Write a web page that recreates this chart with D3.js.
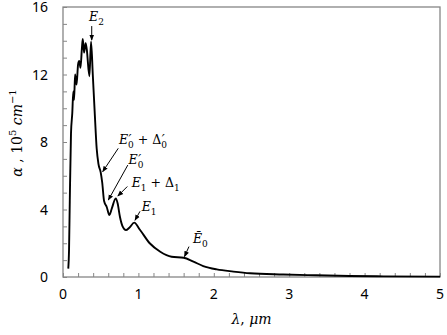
<!DOCTYPE html>
<html>
<head>
<meta charset="utf-8">
<script src="https://cdn.jsdelivr.net/npm/d3@7"></script>
<style>
  body { margin: 0; background: #fff; }
  .tick-label { font-family: "Noto Sans", "Open Sans", sans-serif; font-size: 14px; fill: #000; }
  .math { font-family: "DejaVu Serif", serif; }
</style>
</head>
<body>
<div id="chart"></div>
<script>
// absorption spectrum
const lambda = [0.07, 0.08, 0.09, 0.106, 0.123, 0.137, 0.147, 0.16, 0.18, 0.2, 0.215, 0.232, 0.25, 0.262, 0.28, 0.30, 0.315, 0.35, 0.372, 0.395, 0.42, 0.447, 0.47, 0.50, 0.52, 0.545, 0.58, 0.615, 0.65, 0.70, 0.725, 0.755, 0.79, 0.835, 0.88, 0.945, 1.02, 1.15, 1.29, 1.44, 1.6, 1.73, 1.86, 2.04, 2.26, 2.48, 2.92, 3.36, 3.8, 4.25, 5.0];
const alpha = [0.5, 1.6, 4.5, 8.5, 9.7, 11.0, 10.5, 12.0, 11.4, 12.6, 12.8, 12.4, 13.5, 14.1, 13.3, 13.85, 13.5, 11.9, 13.95, 12.0, 9.8, 7.6, 6.7, 6.2, 5.6, 4.5, 4.15, 3.67, 4.1, 4.66, 4.35, 3.57, 3.0, 2.78, 2.92, 3.22, 2.8, 2.0, 1.5, 1.2, 1.14, 0.91, 0.65, 0.45, 0.32, 0.22, 0.15, 0.1, 0.06, 0.04, 0.02];

const xTicks = [0, 1, 2, 3, 4, 5];
const yTicks = [0, 4, 8, 12, 16];

// transitions marked on the curve: [lambda, alpha] of arrow tip
const peakNames = ["E2", "E0'+D0'", "E0'", "E1+D1", "E1", "Ebar0"];
const peakLambda = [0.381, 0.526, 0.601, 0.727, 0.955, 1.611];
const peakAlpha = [14.04, 6.24, 4.56, 4.8, 3.36, 1.21];

// label pieces: t = main text (it = italic), sub/sup stacked after it
const peakLabels = {
  "E2": [{t: "E", it: true, sub: "2"}],
  "E0'+D0'": [{t: "E", it: true, sub: "0", sup: "′"}, {t: " + Δ", sub: "0", sup: "′"}],
  "E0'": [{t: "E", it: true, sub: "0", sup: "′"}],
  "E1+D1": [{t: "E", it: true, sub: "1"}, {t: " + Δ", sub: "1"}],
  "E1": [{t: "E", it: true, sub: "1"}],
  "Ebar0": [{t: "Ē", it: true, sub: "0"}]
};
// arrow tail and label offsets from the tip, px
const peakLayout = {
  "E2": {tail: [0, -14], label: [-2.7, -19]},
  "E0'+D0'": {tail: [15.6, -23.4], label: [16.3, -27.7]},
  "E0'": {tail: [19.5, -35], label: [20.2, -36]},
  "E1+D1": {tail: [9.5, -9.5], label: [13.9, -9]},
  "E1": {tail: [5, -9], label: [6.7, -9.7]},
  "Ebar0": {tail: [4.5, -10], label: [8.5, -13.5]}
};

const width = 447, height = 335;
const margin = {top: 7, right: 7, bottom: 58, left: 63};

const svg = d3.select("#chart").append("svg")
  .attr("width", width)
  .attr("height", height);

const x = d3.scaleLinear().domain([0, 5]).range([margin.left, width - margin.right]);
const y = d3.scaleLinear().domain([0, 16]).range([height - margin.bottom, margin.top]);

const frame = "#868686";

// minor ticks inside the frame
svg.append("g")
  .attr("transform", `translate(0,${y(0)})`)
  .call(d3.axisBottom(x).tickValues(d3.range(0, 5.01, 0.2)).tickSize(-4).tickFormat(""))
  .call(g => g.select(".domain").remove())
  .call(g => g.selectAll("line").attr("stroke", frame));

svg.append("g")
  .attr("transform", `translate(${x(0)},0)`)
  .call(d3.axisLeft(y).tickValues(d3.range(0, 16.01, 1)).tickSize(-4).tickFormat(""))
  .call(g => g.select(".domain").remove())
  .call(g => g.selectAll("line").attr("stroke", frame));

// frame
svg.append("rect")
  .attr("x", x(0)).attr("y", y(16))
  .attr("width", x(5) - x(0)).attr("height", y(0) - y(16))
  .attr("fill", "none").attr("stroke", frame).attr("stroke-width", 1.3);

// tick labels
svg.selectAll(".xl").data(xTicks).enter().append("text")
  .attr("class", "tick-label")
  .attr("x", d => x(d)).attr("y", y(0) + 22)
  .attr("text-anchor", "middle")
  .text(d => d);

svg.selectAll(".yl").data(yTicks).enter().append("text")
  .attr("class", "tick-label")
  .attr("x", x(0) - 15).attr("y", d => y(d) + 5)
  .attr("text-anchor", "end")
  .text(d => d);

// curve
const pts = lambda.map((l, i) => [l, alpha[i]]);
svg.append("path")
  .datum(pts)
  .attr("fill", "none")
  .attr("stroke", "#000")
  .attr("stroke-width", 1.9)
  .attr("stroke-linejoin", "round")
  .attr("d", d3.line().x(d => x(d[0])).y(d => y(d[1])).curve(d3.curveMonotoneX));

// arrows
svg.append("defs").append("marker")
  .attr("id", "arr")
  .attr("viewBox", "0 0 10 10")
  .attr("refX", 9).attr("refY", 5)
  .attr("markerWidth", 6).attr("markerHeight", 6)
  .attr("markerUnits", "userSpaceOnUse")
  .attr("orient", "auto")
  .append("path").attr("d", "M0,1L10,5L0,9Z").attr("fill", "#000");

function mathLabel(g, px, py, parts, size) {
  const t = g.append("text").attr("class", "math")
    .attr("x", px).attr("y", py)
    .attr("font-size", size);
  let back = 0; // baseline shift still to undo
  parts.forEach(p => {
    t.append("tspan").attr("font-style", p.it ? "italic" : "normal").attr("dy", back).text(p.t);
    back = 0;
    if (p.sup) {
      const s = t.append("tspan").attr("font-style", "italic").attr("font-size", size * 1.05).attr("dx", 0.5).text(p.sup);
      const w = s.node().getComputedTextLength();
      t.append("tspan").attr("font-size", size * 0.72).attr("dx", -w - 0.5).attr("dy", 4).text(p.sub);
      back = -4;
    } else if (p.sub) {
      t.append("tspan").attr("font-size", size * 0.72).attr("dy", 4).text(p.sub);
      back = -4;
    }
  });
  return t;
}

const ann = svg.append("g");
peakNames.forEach((name, i) => {
  const tx = x(peakLambda[i]), ty = y(peakAlpha[i]);
  const lay = peakLayout[name];
  ann.append("line")
    .attr("x1", tx + lay.tail[0]).attr("y1", ty + lay.tail[1])
    .attr("x2", tx).attr("y2", ty)
    .attr("stroke", "#000").attr("stroke-width", 1)
    .attr("marker-end", "url(#arr)");
  mathLabel(ann, tx + lay.label[0], ty + lay.label[1], peakLabels[name], 12.5);
});

// axis titles
svg.append("text")
  .attr("class", "math")
  .attr("x", (x(0) + x(5)) / 2).attr("y", 324)
  .attr("text-anchor", "middle")
  .attr("font-size", 14)
  .call(t => {
    t.append("tspan").attr("font-style", "italic").text("λ");
    t.append("tspan").text(", ");
    t.append("tspan").attr("font-style", "italic").text("μm");
  });

svg.append("text")
  .attr("class", "math")
  .attr("transform", `translate(22,${133}) rotate(-90)`)
  .attr("text-anchor", "middle")
  .attr("font-size", 14)
  .call(t => {
    t.append("tspan").attr("font-style", "italic").text("α");
    t.append("tspan").text(" , 10");
    t.append("tspan").attr("font-size", 10).attr("dy", -6).text("5");
    t.append("tspan").attr("font-style", "italic").attr("dy", 6).text(" cm");
    t.append("tspan").attr("font-size", 10).attr("dy", -6).text("−1");
  });
</script>
</body>
</html>
